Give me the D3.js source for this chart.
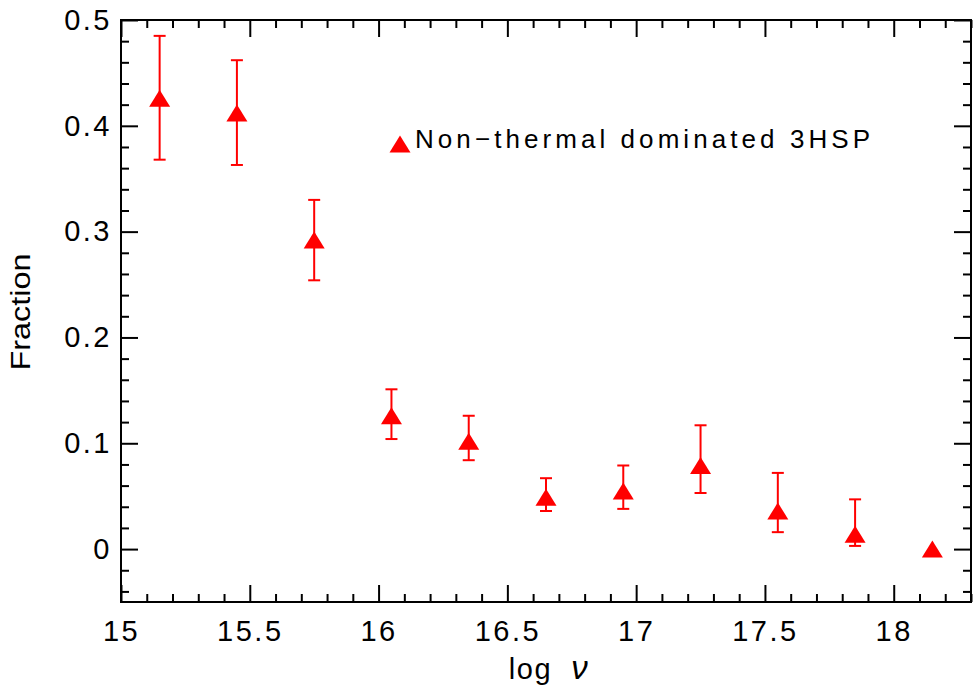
<!DOCTYPE html>
<html>
<head>
<meta charset="utf-8">
<script src="https://cdn.jsdelivr.net/npm/d3@7"></script>
<style>
  body { margin: 0; background: #fff; }
  svg text { font-family: "Liberation Sans", "DejaVu Sans", sans-serif; fill: #000; }
</style>
</head>
<body>
<div id="chart"></div>
<script>
// data
const logNu = [15.15, 15.45, 15.75, 16.05, 16.35, 16.65, 16.95, 17.25, 17.55, 17.85, 18.15];
const fraction = [0.426, 0.412, 0.292, 0.126, 0.102, 0.049, 0.055, 0.079, 0.036, 0.014, 0.0];
const errHigh = [0.485, 0.462, 0.330, 0.151, 0.126, 0.067, 0.079, 0.117, 0.072, 0.047, null];
const errLow = [0.368, 0.363, 0.254, 0.104, 0.084, 0.036, 0.038, 0.053, 0.016, 0.003, null];

const xMajor = [15, 15.5, 16, 16.5, 17, 17.5, 18];
const yMajor = [0, 0.1, 0.2, 0.3, 0.4, 0.5];
const legendLabel = "Non\u2212thermal dominated 3HSP";

const width = 973, height = 689;
const plotLeft = 121, plotRight = 971, plotTop = 20, plotBottom = 602;

const svg = d3.select("#chart").append("svg")
    .attr("width", width)
    .attr("height", height);

const x = d3.scaleLinear().domain([15, 18.3]).range([plotLeft, plotRight]);
const y = d3.scaleLinear().domain([-0.05, 0.5]).range([plotBottom, plotTop]);

const xMinor = d3.range(15.1, 18.3, 0.1).map(v => +v.toFixed(1)).filter(v => !xMajor.includes(v));
const yMinor = d3.range(-0.04, 0.5, 0.02).map(v => +v.toFixed(2)).filter(v => !yMajor.includes(v));

const fmt = d => d === 0 ? "0" : String(d);

// draws one side's ticks (major + minor), labels only if asked
function side(axisFn, scale, major, minor, transform, labels, pad) {
    const g = svg.append("g").attr("transform", transform);
    g.call(axisFn(scale).tickValues(minor).tickSize(-8).tickFormat(""));
    const gm = svg.append("g").attr("transform", transform);
    gm.call(axisFn(scale).tickValues(major).tickSize(-17).tickPadding(pad)
        .tickFormat(labels ? fmt : ""));
    [g, gm].forEach(s => {
        s.select(".domain").remove();
        s.selectAll(".tick line").attr("stroke", "#000").attr("stroke-width", 2);
        s.selectAll(".tick text")
            .style("font-size", "29px")
            .style("letter-spacing", "2.5px")
            .attr("fill", "#000");
    });
}

side(d3.axisBottom, x, xMajor, xMinor, `translate(0,${plotBottom})`, true, 18);
side(d3.axisTop, x, xMajor, xMinor, `translate(0,${plotTop})`, false, 0);
side(d3.axisLeft, y, yMajor, yMinor, `translate(${plotLeft},0)`, true, 9);
side(d3.axisRight, y, yMajor, yMinor, `translate(${plotRight},0)`, false, 0);

// frame
svg.append("rect")
    .attr("x", plotLeft).attr("y", plotTop)
    .attr("width", plotRight - plotLeft).attr("height", plotBottom - plotTop)
    .attr("fill", "none")
    .attr("stroke", "#000")
    .attr("stroke-width", 2);

// axis titles
svg.append("text")
    .attr("x", 549).attr("y", 679)
    .attr("text-anchor", "middle")
    .style("font-size", "29px")
    .style("letter-spacing", "1.5px")
    .html('log&#160;&#160;<tspan font-style="italic" font-size="33px">\u03bd</tspan>');

svg.append("text")
    .attr("transform", "translate(30,312) rotate(-90)")
    .attr("text-anchor", "middle")
    .style("font-size", "27px")
    .attr("textLength", 117)
    .attr("lengthAdjust", "spacingAndGlyphs")
    .text("Fraction");

// error bars
const pts = logNu.map((v, i) => ({ x: v, y: fraction[i], hi: errHigh[i], lo: errLow[i] }));
const bars = svg.append("g").attr("stroke", "#ff0000").attr("stroke-width", 2);
pts.filter(d => d.hi !== null).forEach(d => {
    const cx = x(d.x);
    bars.append("line").attr("x1", cx).attr("x2", cx).attr("y1", y(d.hi)).attr("y2", y(d.lo));
    bars.append("line").attr("x1", cx - 6).attr("x2", cx + 6).attr("y1", y(d.hi)).attr("y2", y(d.hi));
    bars.append("line").attr("x1", cx - 6).attr("x2", cx + 6).attr("y1", y(d.lo)).attr("y2", y(d.lo));
});

function tri(cx, cy) {
    return `M${cx - 10.5},${cy + 8.5}L${cx},${cy - 8.5}L${cx + 10.5},${cy + 8.5}Z`;
}

svg.append("g").selectAll("path")
    .data(pts)
    .enter().append("path")
    .attr("d", d => tri(x(d.x), y(d.y)))
    .attr("fill", "#ff0000");

// legend
svg.append("path").attr("d", tri(400, 144)).attr("fill", "#ff0000");
svg.append("text")
    .attr("x", 415).attr("y", 148)
    .style("font-size", "26px")
    .attr("textLength", 455)
    .attr("lengthAdjust", "spacing")
    .text(legendLabel);
</script>
</body>
</html>
